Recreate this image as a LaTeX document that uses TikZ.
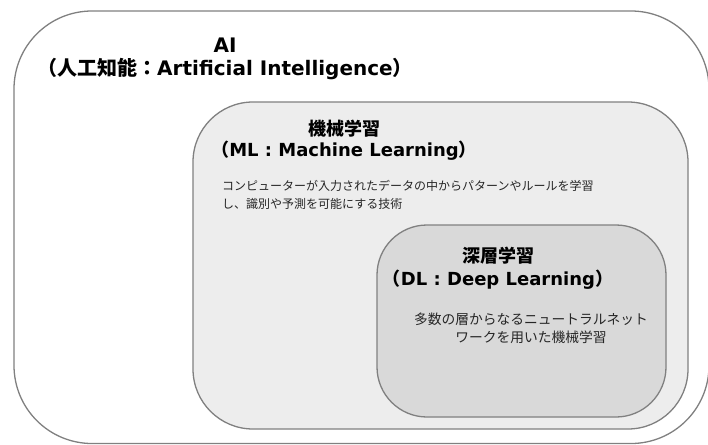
\documentclass[tikz,border=0pt]{standalone}
\usepackage{fontspec}
\setmainfont{DejaVu Sans}
\newfontfamily\jpfont{Noto Sans CJK JP}
\definecolor{edgegray}{HTML}{808080}
\definecolor{mlgray}{HTML}{EDEDED}
\definecolor{dlgray}{HTML}{D9D9D9}
\newcommand*{\AIFont}{\bfseries\fontsize{20}{23}\selectfont}
\newcommand*{\HeadFont}{\bfseries\fontsize{18}{21}\selectfont}
\newcommand*{\DescFont}{\jpfont\fontsize{12}{17.5}\selectfont}

\begin{document}
\begin{tikzpicture}[x=1pt, y=-1pt,
    box/.style={draw=edgegray, line width=1.3pt},
    heading/.style={align=center, inner sep=0pt},
    desc/.style={inner sep=0pt, text=black!85}]
    \useasboundingbox (0,0) rectangle (708,444);
    % nested areas
    \draw[box, fill=white, rounded corners=78pt] (14,11) rectangle (709,443.5);
    \draw[box, fill=mlgray, rounded corners=60pt] (193,102) rectangle (688,429);
    \draw[box, fill=dlgray, rounded corners=50pt] (377,225) rectangle (666,417);
    % labels
    \node[heading, font=\AIFont] (aititle) at (225,58.5)
        {AI\\{\jpfont （人工知能：}Artificial Intelligence{\jpfont ）}};
    \node[heading, font=\HeadFont] (mltitle) at (344,140)
        {{\jpfont 機械学習}\\{\jpfont （}ML : Machine Learning{\jpfont ）}};
    \node[desc, align=left, anchor=west, font=\DescFont] (mltext) at (222,195)
        {コンピューターが入力されたデータの中からパターンやルールを学習\\し、識別や予測を可能にする技術};
    \node[heading, font=\HeadFont] (dltitle) at (498,268)
        {{\jpfont 深層学習}\\[2pt]{\jpfont （}DL : Deep Learning{\jpfont ）}};
    \node[desc, align=center, font=\jpfont\fontsize{13.75}{18}\selectfont] (dltext) at (531,328)
        {多数の層からなるニュートラルネット\\ワークを用いた機械学習};
\end{tikzpicture}
\end{document}
